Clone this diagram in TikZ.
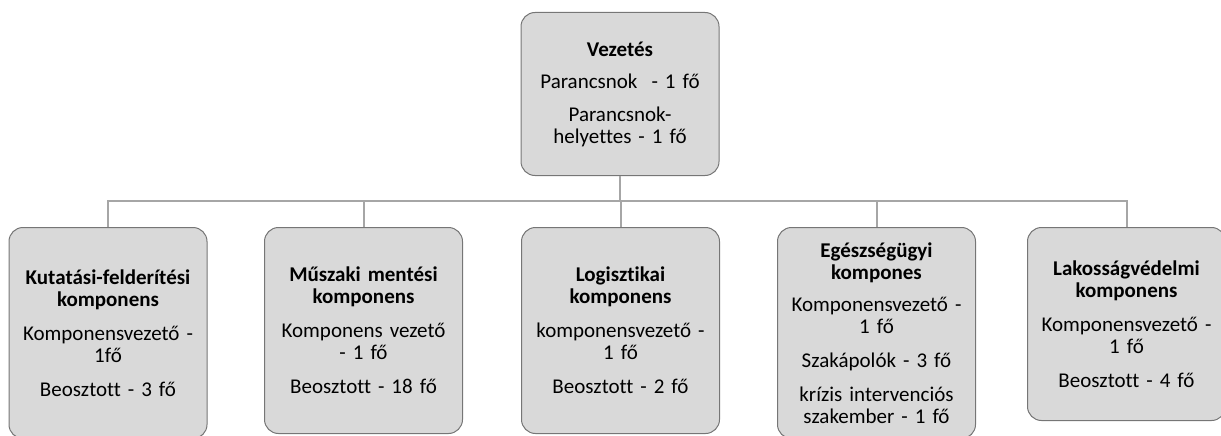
\documentclass[tikz,border=0pt]{standalone}
\usepackage{fontspec}
\setmainfont[Ligatures=NoCommon]{Carlito}
\definecolor{boxfill}{HTML}{D9D9D9}
\definecolor{boxedge}{HTML}{767676}
\definecolor{linkgray}{HTML}{A6A6A6}
\begin{document}
\begin{tikzpicture}[x=1pt,y=-1pt,
  unit/.style={draw=boxedge, line width=1pt, fill=boxfill, rounded corners=14pt,
    anchor=north, text width=198pt, inner sep=0pt, align=center,
    font=\fontsize{21}{22}\selectfont},
  link/.style={draw=linkgray, line width=2pt}]
\useasboundingbox (0,0) rectangle (1221,436);

% head of the organisation
\node[unit, minimum height=163pt] (lead) at (620,12)
  {\textbf{Vezetés}\\[10pt]Parancsnok\ \ - 1 fő\\[11pt]Parancsnok-\\helyettes - 1 fő};

% components
\node[unit, minimum height=211pt] (k1) at (108,227)
  {\textbf{Kutatási-felderítési}\\\textbf{komponens}\\[12pt]Komponensvezető -\\1fő\\[12pt]Beosztott - 3 fő};
\node[unit, minimum height=206pt] (k2) at (363.5,227)
  {\textbf{Műszaki mentési}\\\textbf{komponens}\\[12pt]Komponens vezető\\- 1 fő\\[12pt]Beosztott - 18 fő};
\node[unit, minimum height=206pt] (k3) at (620.5,227)
  {\textbf{Logisztikai}\\\textbf{komponens}\\[12pt]komponensvezető -\\1 fő\\[12pt]Beosztott - 2 fő};
\node[unit, minimum height=211pt] (k4) at (876.5,227)
  {\textbf{Egészségügyi}\\\textbf{kompones}\\[10pt]Komponensvezető -\\1 fő\\[12pt]Szakápolók - 3 fő\\[12pt]krízis intervenciós\\szakember - 1 fő};
\node[unit, minimum height=193pt] (k5) at (1126.5,227)
  {\textbf{Lakosságvédelmi}\\\textbf{komponens}\\[12pt]Komponensvezető -\\1 fő\\[12pt]Beosztott - 4 fő};

% connectors
\coordinate (bus) at (620,201);
\draw[link] (lead.south) -- (bus);
\foreach \k in {k1,k2,k3,k4,k5}
  \draw[link] (bus) -| (\k.north);
\end{tikzpicture}
\end{document}
